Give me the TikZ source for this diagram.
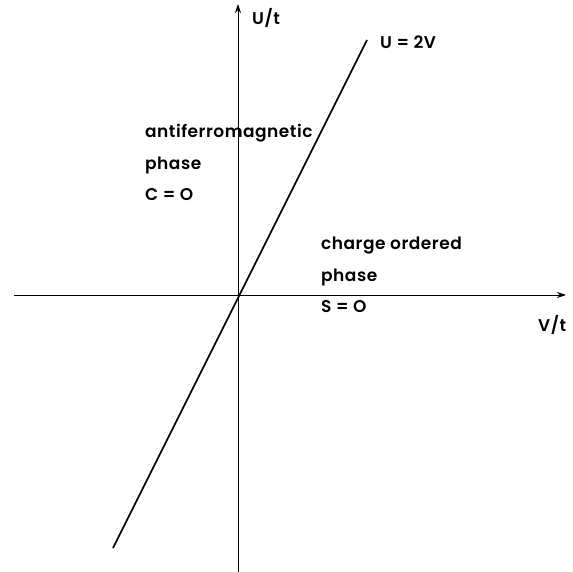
\documentclass[tikz,border=0pt]{standalone}
\usepackage{fontspec}
\setmainfont{Poppins}[LetterSpace=3, BoldFont={Poppins SemiBold}, BoldFeatures={LetterSpace=3}]
\usepackage{tikz}
\usetikzlibrary{arrows.meta,positioning}
\definecolor{inkblack}{RGB}{0,0,0}

\begin{document}
\begin{tikzpicture}[
  x=1pt, y=-1pt,
  node distance=15pt and 0pt,
  lab/.style={font=\fontsize{17}{17}\selectfont\bfseries, inner sep=0pt, text height=12pt, text depth=4pt, anchor=base west},
  axis/.style={-{Stealth[length=9pt,width=6pt]}, line width=0.9pt, draw=inkblack},
  bound/.style={line width=1.6pt, draw=inkblack}
]
\useasboundingbox (0,0) rectangle (573,572);
% axes
\coordinate (xl) at (14,295);
\coordinate (xr) at (566,295);
\coordinate (yb) at (238,572);
\coordinate (yt) at (238,4);
\draw[axis] (xl) -- (xr);
\draw[axis] (yb) -- (yt);
% phase boundary
\coordinate (lb) at (113,548);
\coordinate (lt) at (367,40);
\draw[bound] (lb) -- (lt);
% labels
\node[lab] (ut) at (252,25) {U/t};
\node[lab] (vt) at (538,331) {V/t};
\node[lab] (ub) at (380,49) {U = 2V};
\node[lab] (af) at (145,138) {antiferromagnetic};
\node[lab, below=of af.south west, anchor=north west] (afp) {phase};
\node[lab, below=of afp.south west, anchor=north west] (afc) {C = O};
\node[lab] (co) at (321,250) {charge ordered};
\node[lab, below=of co.south west, anchor=north west] (cop) {phase};
\node[lab, below=of cop.south west, anchor=north west] (cos) {S = O};
\end{tikzpicture}
\end{document}
